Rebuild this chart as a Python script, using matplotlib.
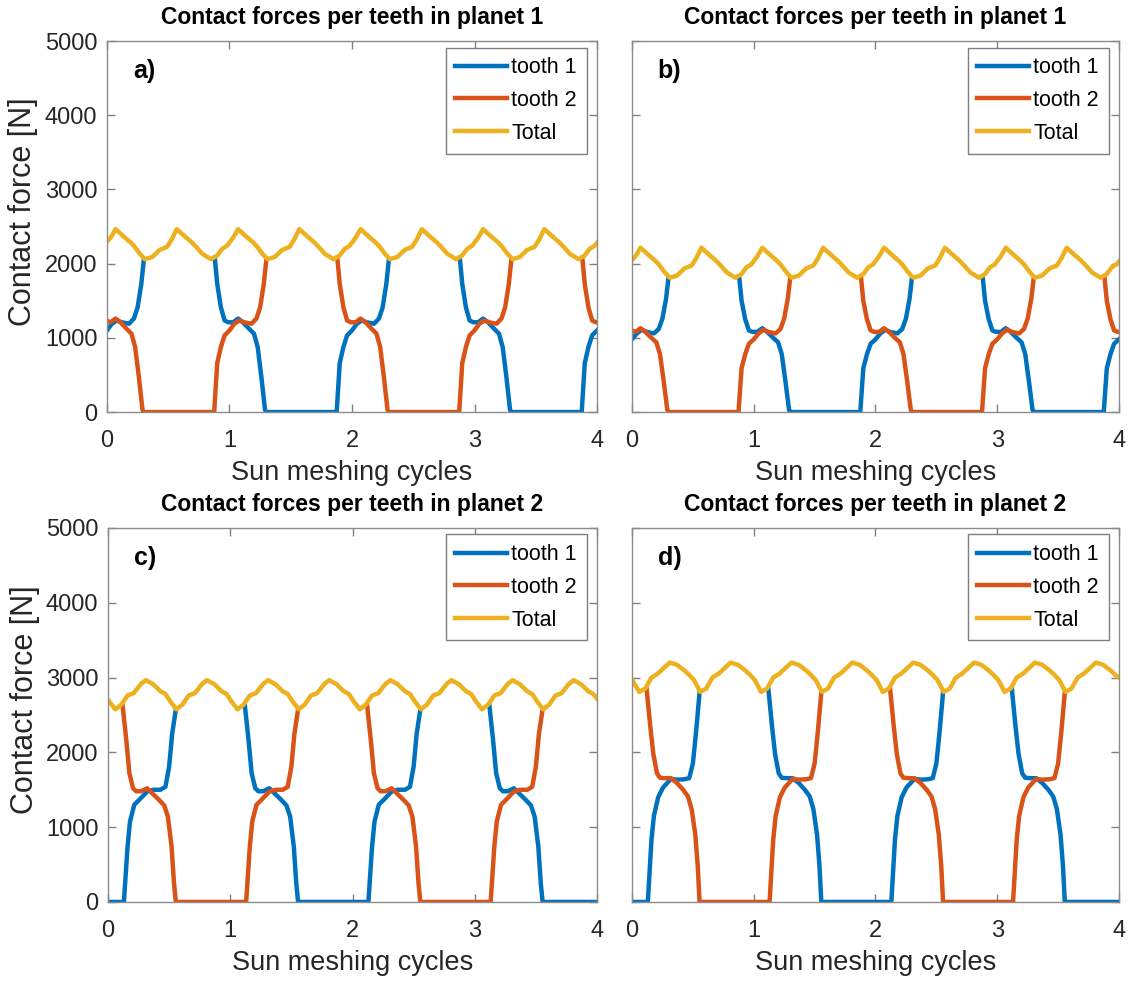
import numpy as np
import matplotlib
matplotlib.use("Agg")
import matplotlib.pyplot as plt

plt.rcParams['font.family'] = ['Liberation Sans', 'DejaVu Sans']

nan = np.nan

# ---------------- planet 1 (panels a, b) : x positions [sun meshing cycles] ----------------
x_total_p1 = [0.00, 0.03, 0.07, 0.13, 0.19, 0.22, 0.27, 0.31, 0.37, 0.43, 0.49, 0.53, 0.57, 0.63, 0.69, 0.72, 0.78,
              0.85, 0.90, 0.94, 0.98, 1.03, 1.07, 1.13, 1.19, 1.22, 1.27, 1.31, 1.37, 1.43, 1.49, 1.53, 1.57, 1.63, 1.69, 1.72, 1.78,
              1.85, 1.90, 1.94, 1.98, 2.03, 2.07, 2.13, 2.19, 2.22, 2.27, 2.31, 2.37, 2.43, 2.49, 2.53, 2.57, 2.63, 2.69, 2.72, 2.78,
              2.85, 2.90, 2.94, 2.98, 3.03, 3.07, 3.13, 3.19, 3.22, 3.27, 3.31, 3.37, 3.43, 3.49, 3.53, 3.57, 3.63, 3.69, 3.72, 3.78,
              3.85, 3.90, 3.94, 3.98, 4.00]
x_tooth1_p1 = [0.00, 0.04, 0.08, 0.12, 0.18, 0.22, 0.25, 0.28, 0.30, nan,
               0.88, 0.90, 0.93, 0.96, 0.99, 1.03, 1.07, 1.11, 1.16, 1.20, 1.23, 1.26, 1.29, 1.30,
               1.875, 1.90, 1.93, 1.96, 2.00, 2.04, 2.08, 2.12, 2.18, 2.22, 2.25, 2.28, 2.30, nan,
               2.88, 2.90, 2.93, 2.96, 2.99, 3.03, 3.07, 3.11, 3.16, 3.20, 3.23, 3.26, 3.29, 3.30,
               3.875, 3.90, 3.93, 3.96, 4.00]
x_tooth2_p1 = [0.00, 0.03, 0.07, 0.11, 0.16, 0.20, 0.23, 0.26, 0.29, 0.30,
               0.875, 0.90, 0.93, 0.96, 1.00, 1.04, 1.08, 1.12, 1.18, 1.22, 1.25, 1.28, 1.30, nan,
               1.88, 1.90, 1.93, 1.96, 1.99, 2.03, 2.07, 2.11, 2.16, 2.20, 2.23, 2.26, 2.29, 2.30,
               2.875, 2.90, 2.93, 2.96, 3.00, 3.04, 3.08, 3.12, 3.18, 3.22, 3.25, 3.28, 3.30, nan,
               3.88, 3.90, 3.93, 3.96, 3.99, 4.00]

# panel a forces [N]
total_a = [2300, 2350, 2465, 2375, 2290, 2240, 2130, 2060, 2090, 2185, 2225, 2330, 2465, 2375, 2290, 2240, 2130,
           2060, 2110, 2200, 2240, 2350, 2465, 2375, 2290, 2240, 2130, 2060, 2090, 2185, 2225, 2330, 2465, 2375, 2290, 2240, 2130,
           2060, 2110, 2200, 2240, 2350, 2465, 2375, 2290, 2240, 2130, 2060, 2090, 2185, 2225, 2330, 2465, 2375, 2290, 2240, 2130,
           2060, 2110, 2200, 2240, 2350, 2465, 2375, 2290, 2240, 2130, 2060, 2090, 2185, 2225, 2330, 2465, 2375, 2290, 2240, 2130,
           2060, 2110, 2200, 2240, 2280]
tooth1_a = [1100, 1190, 1234, 1210, 1190, 1260, 1410, 1725, 2040, nan,
            2080, 1725, 1410, 1234, 1210, 1210, 1260, 1210, 1123, 1056, 877, 476, 31, 0,
            0, 660, 877, 1033, 1100, 1190, 1234, 1210, 1190, 1260, 1410, 1725, 2040, nan,
            2080, 1725, 1410, 1234, 1210, 1210, 1260, 1210, 1123, 1056, 877, 476, 31, 0,
            0, 660, 877, 1033, 1100]
tooth2_a = [1230, 1210, 1260, 1210, 1123, 1056, 877, 476, 31, 0,
            0, 660, 877, 1033, 1100, 1190, 1234, 1210, 1190, 1260, 1410, 1725, 2040, nan,
            2080, 1725, 1410, 1234, 1210, 1210, 1260, 1210, 1123, 1056, 877, 476, 31, 0,
            0, 660, 877, 1033, 1100, 1190, 1234, 1210, 1190, 1260, 1410, 1725, 2040, nan,
            2080, 1725, 1410, 1234, 1210, 1210]

# panel b forces [N]
total_b = [2050, 2100, 2215, 2125, 2040, 1990, 1880, 1810, 1840, 1935, 1975, 2080, 2215, 2125, 2040, 1990, 1880,
           1810, 1860, 1950, 1990, 2100, 2215, 2125, 2040, 1990, 1880, 1810, 1840, 1935, 1975, 2080, 2215, 2125, 2040, 1990, 1880,
           1810, 1860, 1950, 1990, 2100, 2215, 2125, 2040, 1990, 1880, 1810, 1840, 1935, 1975, 2080, 2215, 2125, 2040, 1990, 1880,
           1810, 1860, 1950, 1990, 2100, 2215, 2125, 2040, 1990, 1880, 1810, 1840, 1935, 1975, 2080, 2215, 2125, 2040, 1990, 1880,
           1810, 1860, 1950, 1990, 2030]
tooth1_b = [980, 1060, 1110, 1080, 1060, 1120, 1260, 1530, 1815, nan,
            1830, 1500, 1250, 1100, 1080, 1080, 1130, 1080, 1000, 940, 780, 420, 30, 0,
            0, 590, 780, 920, 980, 1060, 1110, 1080, 1060, 1120, 1260, 1530, 1815, nan,
            1830, 1500, 1250, 1100, 1080, 1080, 1130, 1080, 1000, 940, 780, 420, 30, 0,
            0, 590, 780, 920, 980]
tooth2_b = [1100, 1080, 1130, 1080, 1000, 940, 780, 420, 30, 0,
            0, 590, 780, 920, 980, 1060, 1110, 1080, 1060, 1120, 1260, 1530, 1815, nan,
            1830, 1500, 1250, 1100, 1080, 1080, 1130, 1080, 1000, 940, 780, 420, 30, 0,
            0, 590, 780, 920, 980, 1060, 1110, 1080, 1060, 1120, 1260, 1530, 1815, nan,
            1830, 1500, 1250, 1100, 1080, 1080]

# ---------------- planet 2 (panels c, d) : x positions ----------------
x_total_p2 = [0.00,
              0.06, 0.11, 0.16, 0.21, 0.27, 0.31, 0.37, 0.43, 0.47, 0.51, 0.56, 0.61, 0.66, 0.71, 0.77, 0.81, 0.87, 0.93, 0.97, 1.01,
              1.06, 1.11, 1.16, 1.21, 1.27, 1.31, 1.37, 1.43, 1.47, 1.51, 1.56, 1.61, 1.66, 1.71, 1.77, 1.81, 1.87, 1.93, 1.97, 2.01,
              2.06, 2.11, 2.16, 2.21, 2.27, 2.31, 2.37, 2.43, 2.47, 2.51, 2.56, 2.61, 2.66, 2.71, 2.77, 2.81, 2.87, 2.93, 2.97, 3.01,
              3.06, 3.11, 3.16, 3.21, 3.27, 3.31, 3.37, 3.43, 3.47, 3.51, 3.56, 3.61, 3.66, 3.71, 3.77, 3.81, 3.87, 3.93, 3.97, 4.00]
x_tooth1_p2 = [0.00, 0.13, 0.16, 0.18, 0.215, 0.255, 0.32, 0.37, 0.43, 0.47, 0.50, 0.525, 0.555, nan,
               1.12, 1.15, 1.175, 1.205, 1.23, 1.27, 1.32, 1.37, 1.42, 1.46, 1.49, 1.52, 1.54, 1.555,
               2.13, 2.16, 2.18, 2.215, 2.255, 2.32, 2.37, 2.43, 2.47, 2.50, 2.525, 2.555, nan,
               3.12, 3.15, 3.175, 3.205, 3.23, 3.27, 3.32, 3.37, 3.42, 3.46, 3.49, 3.52, 3.54, 3.555, 4.00]
x_tooth2_p2 = [0.12, 0.15, 0.175, 0.205, 0.23, 0.27, 0.32, 0.37, 0.42, 0.46, 0.49, 0.52, 0.54, 0.555,
               1.13, 1.16, 1.18, 1.215, 1.255, 1.32, 1.37, 1.43, 1.47, 1.50, 1.525, 1.555, nan,
               2.12, 2.15, 2.175, 2.205, 2.23, 2.27, 2.32, 2.37, 2.42, 2.46, 2.49, 2.52, 2.54, 2.555,
               3.13, 3.16, 3.18, 3.215, 3.255, 3.32, 3.37, 3.43, 3.47, 3.50, 3.525, 3.555]

# panel c forces [N]
total_c = [2700,
           2575, 2640, 2760, 2790, 2915, 2965, 2910, 2815, 2780, 2680, 2575, 2640, 2760, 2790, 2915, 2965, 2910, 2815, 2780, 2680,
           2575, 2640, 2760, 2790, 2915, 2965, 2910, 2815, 2780, 2680, 2575, 2640, 2760, 2790, 2915, 2965, 2910, 2815, 2780, 2680,
           2575, 2640, 2760, 2790, 2915, 2965, 2910, 2815, 2780, 2680, 2575, 2640, 2760, 2790, 2915, 2965, 2910, 2815, 2780, 2680,
           2575, 2640, 2760, 2790, 2915, 2965, 2910, 2815, 2780, 2680, 2575, 2640, 2760, 2790, 2915, 2965, 2910, 2815, 2780, 2720]
tooth1_c = [0, 0, 740, 1075, 1300, 1365, 1475, 1500, 1500, 1540, 1810, 2250, 2575, nan,
            2620, 2160, 1720, 1520, 1480, 1480, 1520, 1440, 1360, 1290, 1140, 740, 250, 0,
            0, 740, 1075, 1300, 1365, 1475, 1500, 1500, 1540, 1810, 2250, 2575, nan,
            2620, 2160, 1720, 1520, 1480, 1480, 1520, 1440, 1360, 1290, 1140, 740, 250, 0, 0]
tooth2_c = [2620, 2160, 1720, 1520, 1480, 1480, 1520, 1440, 1360, 1290, 1140, 740, 250, 0,
            0, 740, 1075, 1300, 1365, 1475, 1500, 1500, 1540, 1810, 2250, 2575, nan,
            2620, 2160, 1720, 1520, 1480, 1480, 1520, 1440, 1360, 1290, 1140, 740, 250, 0,
            0, 740, 1075, 1300, 1365, 1475, 1500, 1500, 1540, 1810, 2250, 2575]

# panel d forces [N]
total_d = [2970,
           2808, 2853, 3000, 3050, 3140, 3200, 3170, 3095, 3035, 2965, 2808, 2853, 3000, 3050, 3140, 3200, 3170, 3095, 3035, 2965,
           2808, 2853, 3000, 3050, 3140, 3200, 3170, 3095, 3035, 2965, 2808, 2853, 3000, 3050, 3140, 3200, 3170, 3095, 3035, 2965,
           2808, 2853, 3000, 3050, 3140, 3200, 3170, 3095, 3035, 2965, 2808, 2853, 3000, 3050, 3140, 3200, 3170, 3095, 3035, 2965,
           2808, 2853, 3000, 3050, 3140, 3200, 3170, 3095, 3035, 2965, 2808, 2853, 3000, 3050, 3140, 3200, 3170, 3095, 3035, 3000]
tooth1_d = [0, 0, 833, 1150, 1400, 1530, 1645, 1635, 1640, 1655, 1850, 2250, 2800, nan,
            2850, 2350, 1980, 1720, 1660, 1655, 1655, 1590, 1500, 1410, 1240, 900, 480, 0,
            0, 833, 1150, 1400, 1530, 1645, 1635, 1640, 1655, 1850, 2250, 2800, nan,
            2850, 2350, 1980, 1720, 1660, 1655, 1655, 1590, 1500, 1410, 1240, 900, 480, 0, 0]
tooth2_d = [2850, 2350, 1980, 1720, 1660, 1655, 1655, 1590, 1500, 1410, 1240, 900, 480, 0,
            0, 833, 1150, 1400, 1530, 1645, 1635, 1640, 1655, 1850, 2250, 2800, nan,
            2850, 2350, 1980, 1720, 1660, 1655, 1655, 1590, 1500, 1410, 1240, 900, 480, 0,
            0, 833, 1150, 1400, 1530, 1645, 1635, 1640, 1655, 1850, 2250, 2800]

titles = ["Contact forces per teeth in planet 1", "Contact forces per teeth in planet 1",
          "Contact forces per teeth in planet 2", "Contact forces per teeth in planet 2"]
panel_tags = ["a)", "b)", "c)", "d)"]
legend_labels = ["tooth 1", "tooth 2", "Total"]
x_ticks = [0, 1, 2, 3, 4]
y_ticks = [0, 1000, 2000, 3000, 4000, 5000]

c_blue, c_orange, c_yellow = '#0072BD', '#D95319', '#EDB120'

panels = [
    (x_tooth1_p1, tooth1_a, x_tooth2_p1, tooth2_a, x_total_p1, total_a),
    (x_tooth1_p1, tooth1_b, x_tooth2_p1, tooth2_b, x_total_p1, total_b),
    (x_tooth1_p2, tooth1_c, x_tooth2_p2, tooth2_c, x_total_p2, total_c),
    (x_tooth1_p2, tooth1_d, x_tooth2_p2, tooth2_d, x_total_p2, total_d),
]

# axes boxes in figure fractions (left, bottom, width, height)
boxes = [[0.0945, 0.5804, 0.4329, 0.3778],
         [0.5583, 0.5804, 0.4302, 0.3778],
         [0.0954, 0.0815, 0.4320, 0.3809],
         [0.5583, 0.0815, 0.4302, 0.3809]]

fig = plt.figure(figsize=(11.32, 9.82), dpi=100)

for i, (x1, y1, x2, y2, xt, yt) in enumerate(panels):
    ax = fig.add_axes(boxes[i])
    ax.plot(x1, y1, color=c_blue, lw=3.2, label=legend_labels[0])
    ax.plot(x2, y2, color=c_orange, lw=3.2, label=legend_labels[1])
    ax.plot(xt, yt, color=c_yellow, lw=3.2, label=legend_labels[2])

    ax.set_xlim(0, 4)
    ax.set_ylim(0, 5000)
    ax.set_xticks(x_ticks)
    ax.set_yticks(y_ticks)
    ax.tick_params(direction='in', top=True, right=True, length=6, width=1,
                   color='#808080', labelsize=17, labelcolor='#262626')
    ax.tick_params(axis='x', pad=13)
    ax.tick_params(axis='y', pad=7)
    for s in ax.spines.values():
        s.set_color('#8c8c8c')
        s.set_linewidth(1)

    ax.set_title(titles[i], fontsize=16.5, fontweight='bold', pad=12)
    ax.set_xlabel("Sun meshing cycles", fontsize=19.5, color='#262626', labelpad=6)
    if i % 2 == 0:
        ax.set_ylabel("Contact force [N]", fontsize=22, color='#262626')
        ax.yaxis.set_label_coords(-0.14, 0.54)
    else:
        ax.tick_params(labelleft=False)

    ax.text(0.053, 0.92, panel_tags[i], transform=ax.transAxes, fontsize=18,
            fontweight='bold', va='center', ha='left')

    leg = ax.legend(loc='upper right', bbox_to_anchor=(0.992, 1.0), fontsize=15.5,
                    fancybox=False, framealpha=1, edgecolor='#7f7f7f',
                    handlelength=2.4, handletextpad=0.2, borderpad=0.45,
                    labelspacing=0.55, borderaxespad=0.3)
    leg.get_frame().set_linewidth(1)

fig.savefig("out.png", dpi=100)
